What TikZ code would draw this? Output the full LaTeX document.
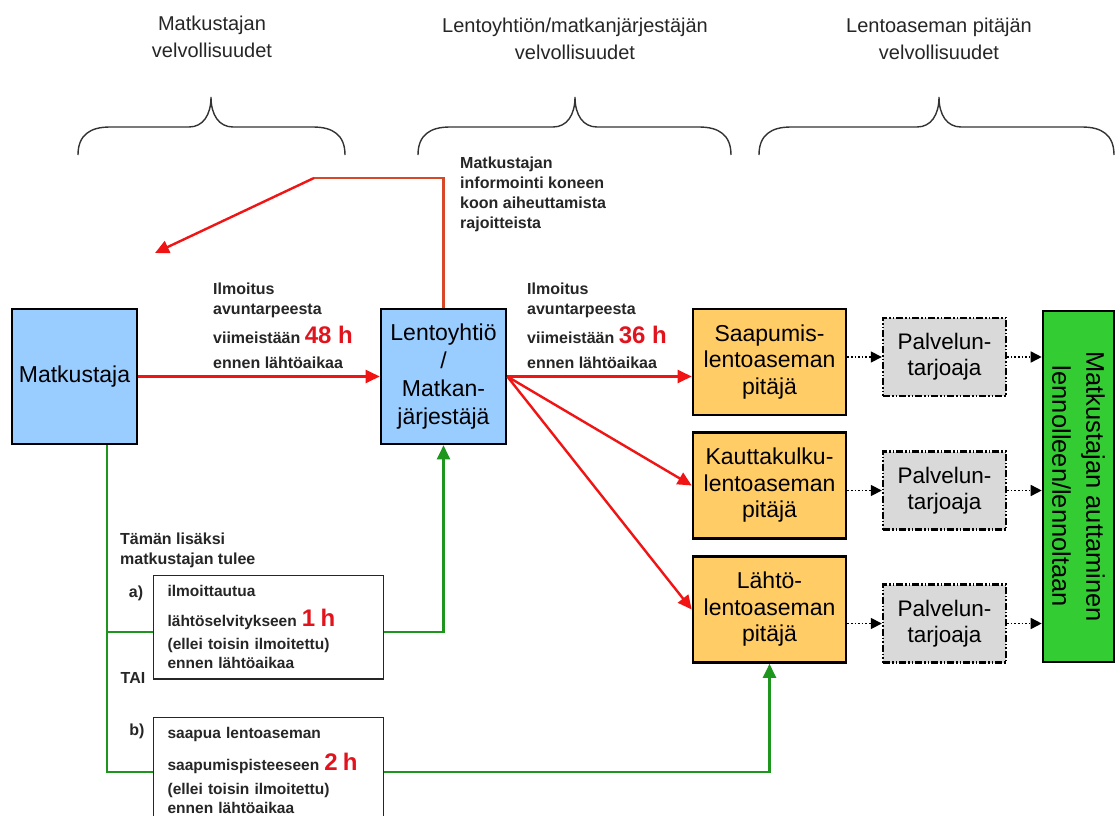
\documentclass[tikz,border=0pt]{standalone}
\usepackage{fontspec}
\setmainfont{Liberation Sans}
\usetikzlibrary{arrows.meta}
\definecolor{boxBlue}{RGB}{153,204,255}
\definecolor{boxOrange}{RGB}{255,204,102}
\definecolor{boxGreen}{RGB}{51,204,51}
\definecolor{lineRed}{RGB}{240,20,20}
\definecolor{lineRust}{RGB}{214,72,40}
\definecolor{lineGreen}{RGB}{30,150,30}
\definecolor{hourRed}{RGB}{225,20,30}
\newcommand{\hrs}[1]{{\color{hourRed}\fontsize{24}{24}\selectfont #1}}

\begin{document}
\begin{tikzpicture}[x=1pt,y=-1pt,
    header/.style={font=\fontsize{20}{27}\selectfont, align=center, text=black!85, inner sep=0},
    brace/.style={line width=1.4pt, black!80},
    party/.style={draw, line width=2.6pt, fill=boxBlue, minimum width=125, minimum height=135,
      font=\fontsize{23}{28}\selectfont, align=center, inner sep=2},
    airport/.style={draw, line width=2.6pt, fill=boxOrange, minimum width=153, minimum height=106,
      font=\fontsize{23}{26.5}\selectfont, align=center, inner sep=2},
    service/.style={draw, line width=2.4pt, dash pattern=on 7pt off 2pt on 1.5pt off 2pt on 1.5pt off 2pt,
      fill=black!15, minimum width=123, minimum height=78, font=\fontsize{22.5}{26}\selectfont, align=center},
    note/.style={draw, line width=1.2pt, black!85, fill=white, text width=202, inner xsep=14, inner ysep=10,
      align=left, font=\bfseries\fontsize{15.5}{19}\selectfont},
    label/.style={align=left, inner sep=0, font=\bfseries\fontsize{16}{20}\selectfont, text=black!85},
    redArrow/.style={lineRed, line width=2.4pt, -{Triangle[length=14pt,width=13pt]}},
    greenLine/.style={lineGreen, line width=2.4pt},
    greenArrow/.style={greenLine, -{Triangle[length=14pt,width=13pt]}},
    dotArrow/.style={black, dotted, line width=1.6pt, -{Triangle[length=11pt,width=11pt]}}]
  \useasboundingbox (0,0) rectangle (1117,816);
  \fill[white] (0,0) rectangle (1117,816);

  %% column headers
  \node[header, anchor=north] (hdrMatkustaja) at (212,16) {Matkustajan\\velvollisuudet};
  \node[header, anchor=north] (hdrLentoyhtio) at (575,18) {Lentoyhtiön/matkanjärjestäjän\\velvollisuudet};
  \node[header, anchor=north] (hdrLentoasema) at (939,18) {Lentoaseman pitäjän\\velvollisuudet};
  \foreach \l/\t/\r in {78/211/345, 418/575/731, 759/939/1114} {
    \draw[brace] (\l,155) .. controls (\l,135) and ({\l+12},127) .. ({\l+32},127) -- ({\t-22},127)
      .. controls ({\t-8},127) and (\t,115) .. (\t,97) .. controls (\t,115) and ({\t+8},127) .. ({\t+22},127)
      -- ({\r-32},127) .. controls ({\r-12},127) and (\r,135) .. (\r,155);
  }

  %% boxes
  \node[party] (matkustaja) at (74.5,376.5) {Matkustaja};
  \node[party] (lentoyhtio) at (443.5,376.5) {Lentoyhtiö\\/\\Matkan-\\järjestäjä};
  \node[airport] (saapumis) at (769.5,362) {Saapumis-\\lentoaseman\\pitäjä};
  \node[airport] (kauttakulku) at (769.5,485.5) {Kauttakulku-\\lentoaseman\\pitäjä};
  \node[airport] (lahto) at (769.5,609.5) {Lähtö-\\lentoaseman\\pitäjä};
  \node[service] (palvelu1) at (944.5,357) {Palvelun-\\tarjoaja};
  \node[service] (palvelu2) at (944.5,490.5) {Palvelun-\\tarjoaja};
  \node[service] (palvelu3) at (944.5,623.5) {Palvelun-\\tarjoaja};
  \node[draw, line width=2.6pt, fill=boxGreen, minimum width=351, minimum height=71, rotate=-90,
    font=\fontsize{25.5}{34}\selectfont, align=center] (auttaminen) at (1078.5,486.5)
    {Matkustajan auttaminen\\lennolleen/lennoltaan};
  \node[note, anchor=north west] (boxA) at (153,575)
    {ilmoittautua\\[11pt]lähtöselvitykseen \hrs{1 h}\\[4pt](ellei toisin ilmoitettu)\\ennen lähtöaikaa};
  \node[note, anchor=north west] (boxB) at (153,717)
    {saapua lentoaseman\\[10pt]saapumispisteeseen \hrs{2 h}\\[5pt](ellei toisin ilmoitettu)\\ennen lähtöaikaa};

  %% texts
  \node[label, anchor=north west] (ilmoitus48) at (213,283)
    {Ilmoitus\\avuntarpeesta\\[7pt]viimeistään \hrs{48 h}\\[5pt]ennen lähtöaikaa};
  \node[label, anchor=north west] (ilmoitus36) at (527,283)
    {Ilmoitus\\avuntarpeesta\\[7pt]viimeistään \hrs{36 h}\\[5pt]ennen lähtöaikaa};
  \node[label, anchor=north west] (informointi) at (460,157)
    {Matkustajan\\informointi koneen\\koon aiheuttamista\\rajoitteista};
  \node[label, anchor=north west] (lisaksi) at (120,533) {Tämän lisäksi\\matkustajan tulee};
  \node[label] (optA) at (136,593) {a)};
  \node[label] (tai) at (133,678) {TAI};
  \node[label] (optB) at (137,731) {b)};

  %% red arrows
  \coordinate (infoBend) at (314,178);
  \coordinate (infoEnd) at (155,253);
  \draw[lineRust, line width=2.4pt] (lentoyhtio.north) |- (infoBend);
  \draw[redArrow] (infoBend) -- (infoEnd);
  \draw[redArrow] (matkustaja) -- (lentoyhtio);
  \draw[redArrow] (lentoyhtio.east) -- (lentoyhtio.east -| saapumis.west);
  \draw[redArrow] (lentoyhtio.east) -- (kauttakulku.west);
  \draw[redArrow] (lentoyhtio.east) -- (lahto.west);

  %% dotted arrows
  \foreach \src/\svc in {saapumis/palvelu1, kauttakulku/palvelu2, lahto/palvelu3} {
    \draw[dotArrow] (\src.east |- \svc.west) -- (\svc.west);
    \draw[dotArrow] (\svc.east) -- (\svc.east -| auttaminen.south);
  }

  %% green lines
  \coordinate (trunkA) at (107,632);
  \coordinate (trunkB) at (107,772);
  \draw[greenLine] (matkustaja.south -| trunkA) -- (trunkB) -- (trunkB -| boxB.west);
  \draw[greenLine] (trunkA) -- (trunkA -| boxA.west);
  \draw[greenArrow] (boxA.east |- trunkA) -| (lentoyhtio.south);
  \draw[greenArrow] (boxB.east |- trunkB) -| (lahto.south);
\end{tikzpicture}
\end{document}
